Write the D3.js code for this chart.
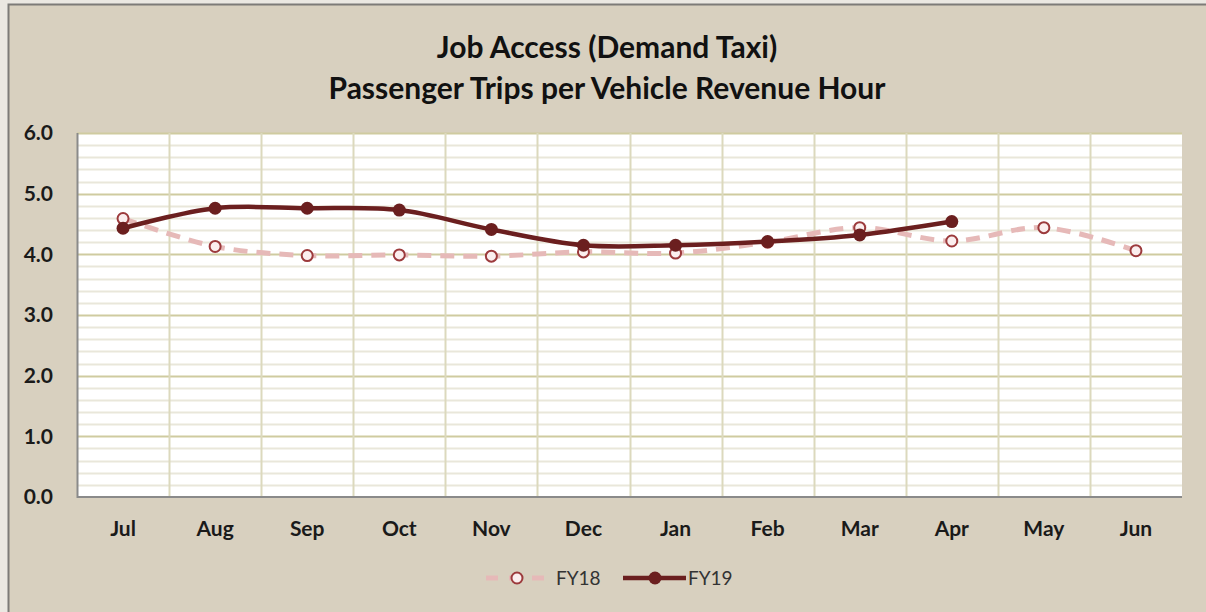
<!DOCTYPE html>
<html>
<head>
<meta charset="utf-8">
<script src="https://cdn.jsdelivr.net/npm/d3@7"></script>
<style>
  html, body { margin: 0; padding: 0; background: #ebe8e2; }
  svg { display: block; }
</style>
</head>
<body>
<svg id="chart" width="1206" height="612"></svg>
<script>
var months = ["Jul", "Aug", "Sep", "Oct", "Nov", "Dec", "Jan", "Feb", "Mar", "Apr", "May", "Jun"];
var fy18 = [4.59, 4.13, 3.98, 3.99, 3.97, 4.04, 4.02, 4.20, 4.44, 4.22, 4.44, 4.06];
var fy19 = [4.43, 4.76, 4.76, 4.73, 4.41, 4.15, 4.15, 4.21, 4.32, 4.54];
var yTicks = [0, 1, 2, 3, 4, 5, 6];
var titleLines = ["Job Access (Demand Taxi)", "Passenger Trips per Vehicle Revenue Hour"];

var svg = d3.select("#chart");
var font = "Lato, 'Open Sans', sans-serif";

// chart background and frame
svg.append("rect")
    .attr("x", 8).attr("y", 4)
    .attr("width", 1206).attr("height", 620)
    .style("fill", "#d8d0bf");
svg.append("path")
    .attr("d", "M8.5,620V4.5H1206")
    .style("fill", "none")
    .style("stroke", "#7d7b78")
    .style("stroke-width", 2);

var margin = { top: 133, right: 24, bottom: 115, left: 77 };
var width = 1206 - margin.left - margin.right;
var height = 612 - margin.top - margin.bottom;

var x = d3.scaleBand().domain(months).range([0, width]);
var y = d3.scaleLinear().domain([0, 6]).range([height, 0]);

var g = svg.append("g")
    .attr("transform", "translate(" + margin.left + "," + margin.top + ")");

g.append("rect")
    .attr("width", width).attr("height", height)
    .style("fill", "#ffffff");

// minor gridlines
var minor = d3.range(0, 6.01, 0.2).filter(function(v) {
    return Math.abs(v - Math.round(v)) > 0.01;
});
g.selectAll(".minor").data(minor).enter().append("line")
    .attr("x1", 0).attr("x2", width)
    .attr("y1", function(d) { return Math.round(y(d)) + 0.5; })
    .attr("y2", function(d) { return Math.round(y(d)) + 0.5; })
    .style("stroke", "#e9e7da").style("stroke-width", 2);

// major gridlines
g.selectAll(".major").data(yTicks.slice(1)).enter().append("line")
    .attr("x1", 0).attr("x2", width)
    .attr("y1", function(d) { return Math.round(y(d)) + 0.5; })
    .attr("y2", function(d) { return Math.round(y(d)) + 0.5; })
    .style("stroke", "#cfcba0").style("stroke-width", 2);

// vertical gridlines at category boundaries
g.selectAll(".vgrid").data(months.slice(1)).enter().append("line")
    .attr("x1", function(d) { return Math.round(x(d)) + 0.5; })
    .attr("x2", function(d) { return Math.round(x(d)) + 0.5; })
    .attr("y1", 0).attr("y2", height)
    .style("stroke", "#dcd9bd").style("stroke-width", 2);

// axes lines
g.append("path")
    .attr("d", "M0.5,0V" + height + "H" + width)
    .style("fill", "none")
    .style("stroke", "#8a8a8a")
    .style("stroke-width", 2);

// y labels
g.selectAll(".ylab").data(yTicks).enter().append("text")
    .attr("x", -24)
    .attr("y", function(d) { return y(d); })
    .attr("dy", "0.35em")
    .attr("text-anchor", "end")
    .style("font-family", font)
    .style("font-weight", "bold")
    .style("font-size", "21px")
    .style("fill", "#1a1a1a")
    .text(function(d) { return d3.format(".1f")(d); });

// x labels
g.selectAll(".xlab").data(months).enter().append("text")
    .attr("x", function(d) { return x(d) + x.bandwidth() / 2; })
    .attr("y", height + 32)
    .attr("dy", "0.35em")
    .attr("text-anchor", "middle")
    .style("font-family", font)
    .style("font-weight", "bold")
    .style("font-size", "21px")
    .style("fill", "#1a1a1a")
    .text(function(d) { return d; });

var line = d3.line()
    .curve(d3.curveCatmullRom.alpha(0.5))
    .x(function(d, i) { return x(months[i]) + x.bandwidth() / 2; })
    .y(function(d) { return y(d); });

// FY18
g.append("path")
    .datum(fy18)
    .attr("d", line)
    .style("fill", "none")
    .style("stroke", "#e6b9b8")
    .style("stroke-width", 5)
    .style("stroke-dasharray", "14,9");
g.selectAll(".p18").data(fy18).enter().append("circle")
    .attr("cx", function(d, i) { return x(months[i]) + x.bandwidth() / 2; })
    .attr("cy", function(d) { return y(d); })
    .attr("r", 5.5)
    .style("fill", "#fbeeee")
    .style("stroke", "#9c3a3c")
    .style("stroke-width", 2);

// FY19
g.append("path")
    .datum(fy19)
    .attr("d", line)
    .style("fill", "none")
    .style("stroke", "#6b1f1f")
    .style("stroke-width", 4.5);
g.selectAll(".p19").data(fy19).enter().append("circle")
    .attr("cx", function(d, i) { return x(months[i]) + x.bandwidth() / 2; })
    .attr("cy", function(d) { return y(d); })
    .attr("r", 6.5)
    .style("fill", "#6b1f1f");

// title
svg.selectAll(".title").data(titleLines).enter().append("text")
    .attr("x", 607)
    .attr("y", function(d, i) { return 47 + i * 41; })
    .attr("dy", "0.35em")
    .attr("text-anchor", "middle")
    .style("font-family", font)
    .style("font-weight", "bold")
    .style("font-size", "30px")
    .style("fill", "#111")
    .text(function(d) { return d; });

// legend
var leg = svg.append("g").attr("transform", "translate(0,578)");
leg.append("line")
    .attr("x1", 486).attr("x2", 546)
    .style("stroke", "#e6b9b8").style("stroke-width", 5)
    .style("stroke-dasharray", "12,11");
leg.append("circle")
    .attr("cx", 517).attr("r", 5.5)
    .style("fill", "#fbeeee").style("stroke", "#9c3a3c").style("stroke-width", 2);
leg.append("text")
    .attr("x", 556).attr("dy", "0.35em")
    .style("font-family", font).style("font-size", "19px").style("fill", "#333")
    .text("FY18");
leg.append("line")
    .attr("x1", 623).attr("x2", 686)
    .style("stroke", "#6b1f1f").style("stroke-width", 4.5);
leg.append("circle")
    .attr("cx", 655).attr("r", 6.5)
    .style("fill", "#6b1f1f");
leg.append("text")
    .attr("x", 688).attr("dy", "0.35em")
    .style("font-family", font).style("font-size", "19px").style("fill", "#333")
    .text("FY19");
</script>
</body>
</html>
